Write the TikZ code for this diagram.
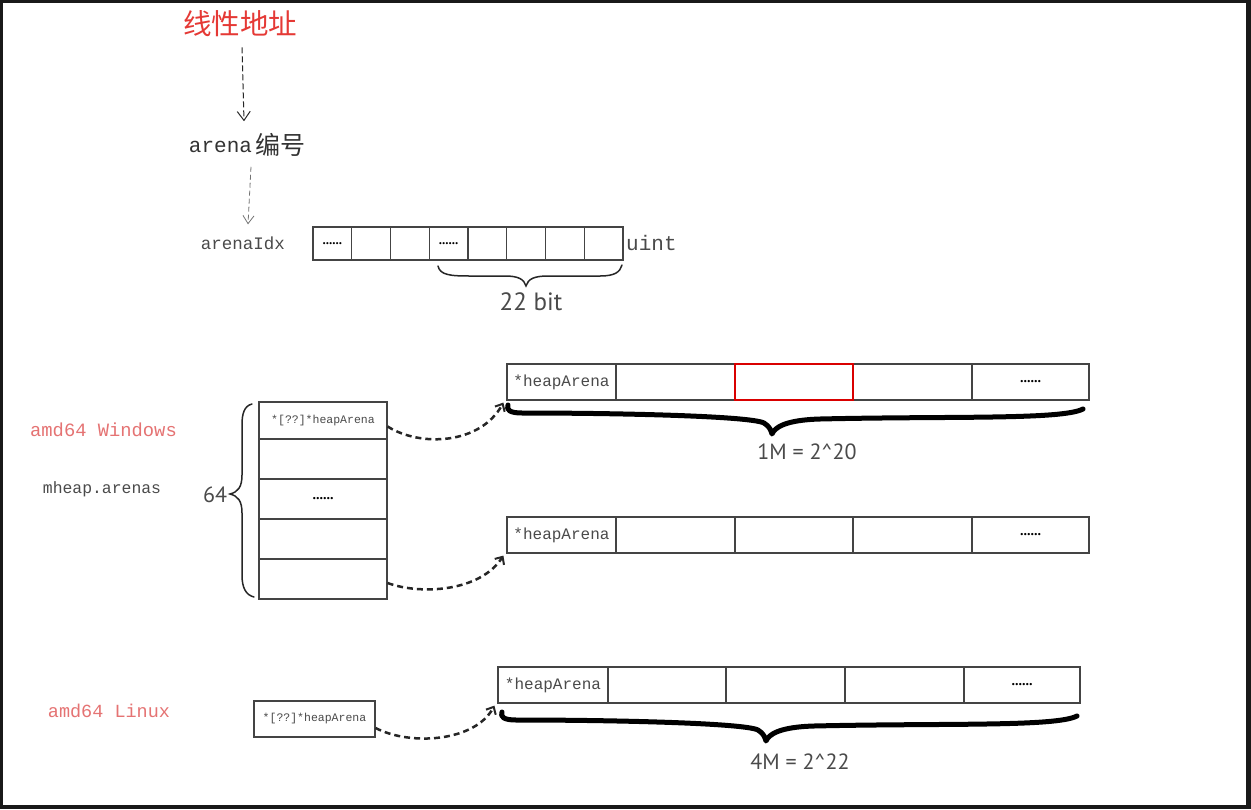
\documentclass[tikz,border=0pt]{standalone}
\usepackage{fontspec}
\setmainfont{Liberation Serif}
\newfontfamily\cjk{Noto Sans CJK SC}
\newfontfamily\monof{Liberation Mono}
\newfontfamily\condf{PT Sans}
\usetikzlibrary{arrows.meta}
\definecolor{titlered}{HTML}{E53935}
\definecolor{lightred}{HTML}{E57373}
\definecolor{txtgray}{HTML}{4A4A4A}
\definecolor{boxline}{HTML}{444444}
\begin{document}
\begin{tikzpicture}[x=1pt,y=-1pt,
  cell/.style={draw=boxline,line width=1.2pt,minimum height=36pt,inner sep=0pt,anchor=center,text=txtgray},
  idxcell/.style={draw=boxline,line width=1.2pt,minimum height=33pt,minimum width=38.75pt,inner sep=0pt,anchor=center,font=\rmfamily\bfseries\fontsize{13}{13}\selectfont},
  redcell/.style={draw=red!85!black,line width=1.6pt,minimum height=36pt,inner sep=0pt,anchor=center},
  arenatxt/.style={font=\monof\fontsize{16}{19}\selectfont},
  dotstxt/.style={font=\rmfamily\bfseries\fontsize{14}{14}\selectfont},
  ptrtxt/.style={font=\monof\fontsize{11.5}{14}\selectfont},
  condtxt/.style={font=\condf\fontsize{22}{26}\selectfont,text=txtgray,inner sep=0pt},
  lbl/.style={inner sep=0pt,text=txtgray},
  dashcurve/.style={draw=black!85,line width=2.5pt,dash pattern=on 6pt off 4pt,-{Straight Barb[length=6pt,width=11pt,line width=2pt]}},
  thinarrow/.style={draw=black!85,line width=1pt,dash pattern=on 6pt off 3pt,-{Straight Barb[length=9pt,width=13pt,line width=1pt]}},
  thinarrowb/.style={draw=black!55,line width=0.8pt,dash pattern=on 5pt off 3pt,-{Straight Barb[length=8pt,width=11pt,line width=0.8pt]}},
  bigbrace/.style={draw=black,line width=5pt,line cap=round,line join=round},
  thinbrace/.style={draw=black!85,line width=1.5pt,line cap=round}
]
\useasboundingbox (0,0) rectangle (1251,809);
\fill[black!90] (0,0) rectangle (1251,809);
\fill[white] (3,3) rectangle (1246,805);

% ---------- top part ----------
\node[inner sep=0pt,text=titlered,font=\cjk\fontsize{28.5}{32}\selectfont] (title) at (240,24) {线性地址};
\node[inner sep=0pt,font=\monof\fontsize{21}{25}\selectfont,text=black!80] (arena) at (247,145) {arena\hspace{3pt}{\cjk\fontsize{25}{28}\selectfont\raisebox{-2pt}{编号}}};
\node[lbl,font=\monof\fontsize{17.5}{20}\selectfont] (arenaidx) at (243,243) {arenaIdx};
\draw[thinarrow] ([xshift=2pt]title.south) ++(0,10) coordinate (a1s) (a1s) -- ([xshift=-3pt,yshift=12pt]arena.north);
\draw[thinarrowb] ([xshift=4pt,yshift=-10pt]arena.south) -- ([xshift=5pt,yshift=12pt]arenaidx.north);

\node[idxcell] (i1) at (332.4,243.5) {......};
\node[idxcell] (i2) at (371.1,243.5) {};
\node[idxcell] (i3) at (409.9,243.5) {};
\node[idxcell] (i4) at (448.6,243.5) {......};
\node[idxcell] (i5) at (487.4,243.5) {};
\node[idxcell] (i6) at (526.1,243.5) {};
\node[idxcell] (i7) at (564.9,243.5) {};
\node[idxcell] (i8) at (603.6,243.5) {};
\node[lbl,anchor=west,font=\monof\fontsize{21}{25}\selectfont] (uint) at (626,243) {uint};
\draw[thinbrace] (438,266) .. controls (440,275) and (450,276) .. (470,276) -- (505,276)
  .. controls (518,276) and (524,279) .. (526,286)
  .. controls (528,279) and (534,276) .. (548,276) -- (600,276)
  .. controls (615,276) and (620,272) .. (622,265);
\node[condtxt,font=\condf\fontsize{25}{28}\selectfont] (bit22) at (531,302) {22 bit};

% ---------- amd64 Windows ----------
\node[lbl,text=lightred,font=\monof\fontsize{18.8}{22}\selectfont] (winlbl) at (103.5,430) {amd64 Windows};
\node[lbl,font=\monof\fontsize{16.4}{20}\selectfont] (mheap) at (102,489) {mheap.arenas};
\node[condtxt] (n64) at (215,495) {64};
\draw[thinbrace] (252,404) .. controls (244,406) and (242,414) .. (242,425) -- (242,475)
  .. controls (242,487) and (238,492) .. (230,494)
  .. controls (238,496) and (242,501) .. (242,513) -- (242,575)
  .. controls (242,588) and (246,595) .. (254,597);

\node[cell,minimum width=128pt,minimum height=37pt,ptrtxt] (t1) at (323,420.5) {*[??]*heapArena};
\node[cell,minimum width=128pt,minimum height=40pt] (t2) at (323,459) {};
\node[cell,minimum width=128pt,minimum height=40pt,dotstxt,text=black] (t3) at (323,499) {......};
\node[cell,minimum width=128pt,minimum height=40pt] (t4) at (323,539) {};
\node[cell,minimum width=128pt,minimum height=40pt] (t5) at (323,579) {};

% array 1
\node[cell,minimum width=109pt,arenatxt] (wa0) at (561.5,382) {*heapArena};
\node[cell,minimum width=119pt] (wa1) at (675.5,382) {};
\node[cell,minimum width=119pt] (wa3) at (912.5,382) {};
\node[cell,minimum width=117pt,dotstxt,text=black] (wa4) at (1030.5,382) {......};
\node[redcell,minimum width=118pt] (wa2) at (794,382) {};
\draw[bigbrace] (508,405) .. controls (506,410) and (510,413) .. (522,413)
  .. controls (620,413) and (750,416) .. (764,423)
  .. controls (769,426) and (771,430) .. (772,434)
  .. controls (775,427) and (786,420) .. (820,419)
  .. controls (950,416) and (1062,420) .. (1083,409);
\node[condtxt] (m1) at (807,452) {1M = 2\^{}20};

% array 2
\node[cell,minimum width=109pt,arenatxt] (wb0) at (561.5,535) {*heapArena};
\node[cell,minimum width=119pt] (wb1) at (675.5,535) {};
\node[cell,minimum width=118pt] (wb2) at (794,535) {};
\node[cell,minimum width=119pt] (wb3) at (912.5,535) {};
\node[cell,minimum width=117pt,dotstxt,text=black] (wb4) at (1030.5,535) {......};

\draw[dashcurve] ([yshift=-6pt]t1.east) .. controls (420,447) and (480,445) .. ([xshift=-3pt,yshift=-2pt]wa0.south west);
\draw[dashcurve] ([yshift=-4pt]t5.east) .. controls (420,595) and (480,592) .. ([xshift=-3pt,yshift=-2pt]wb0.south west);

% ---------- amd64 Linux ----------
\node[lbl,text=lightred,font=\monof\fontsize{18.5}{22}\selectfont] (linlbl) at (109,711) {amd64 Linux};
\node[cell,minimum width=121pt,ptrtxt] (lp) at (314.5,719) {*[??]*heapArena};
\node[cell,minimum width=110pt,arenatxt] (la0) at (553,685) {*heapArena};
\node[cell,minimum width=118pt] (la1) at (667,685) {};
\node[cell,minimum width=119pt] (la2) at (785.5,685) {};
\node[cell,minimum width=119pt] (la3) at (904.5,685) {};
\node[cell,minimum width=116pt,dotstxt,text=black] (la4) at (1022,685) {......};
\draw[dashcurve] ([yshift=-9pt]lp.east) .. controls (410,746) and (475,742) .. ([xshift=-3pt,yshift=-2pt]la0.south west);
\begin{scope}[shift={(-6,307)}]
\draw[bigbrace] (508,405) .. controls (506,410) and (510,413) .. (522,413)
  .. controls (620,413) and (750,416) .. (764,423)
  .. controls (769,426) and (771,430) .. (772,434)
  .. controls (775,427) and (786,420) .. (820,419)
  .. controls (950,416) and (1062,420) .. (1083,409);
\end{scope}
\node[condtxt] (m4) at (800,762) {4M = 2\^{}22};
\end{tikzpicture}
\end{document}
